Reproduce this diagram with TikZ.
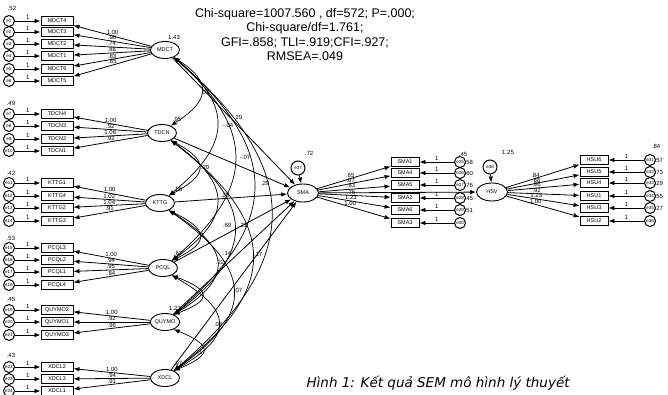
\documentclass[tikz,border=0pt]{standalone}
\usepackage{fontspec}
\setmainfont{Liberation Sans}
\newfontfamily\capfont{DejaVu Sans}
\usetikzlibrary{shapes.geometric,arrows.meta,calc}
\newcommand{\covarc}[4]{\draw[cov] (#1.-40) .. controls +(#3,#4) and +(#3,-#4) .. (#2.40);}
\begin{document}
\begin{tikzpicture}[x=1pt,y=-1pt,
 ind/.style={draw, line width=0.9pt, minimum width=32pt, minimum height=9.5pt, inner sep=0pt, font=\fontsize{5.5}{6}\selectfont},
 indr/.style={ind, minimum width=28pt},
 lat/.style={ellipse, draw, line width=0.9pt, minimum width=29pt, minimum height=17pt, inner sep=0pt, font=\fontsize{5.5}{6}\selectfont},
 err/.style={circle, draw, line width=1pt, minimum size=11pt, inner sep=0pt, font=\fontsize{4.5}{5}\selectfont},
 num/.style={font=\fontsize{6}{7}\selectfont, inner sep=0.5pt},
 arr/.style={-{Latex[length=6pt,width=4.5pt]}, line width=0.8pt},
 cov/.style={{Latex[length=6pt,width=4.5pt]}-{Latex[length=6pt,width=4.5pt]}, line width=0.7pt},
]
\useasboundingbox[fill=white] (0,0) rectangle (668,395);

% title
\node[font=\fontsize{12.5}{14.3}\selectfont, align=center] (title) at (305,34.5)
 {Chi-square=1007.560 , df=572; P=.000;\\Chi-square/df=1.761;\\GFI=.858; TLI=.919;CFI=.927;\\RMSEA=.049};

% latent variables
\node[lat] (M) at (165,50) {MDCT};
\node[lat] (T) at (162,133) {TDCN};
\node[lat] (K) at (160,203) {KTTG};
\node[lat] (P) at (163,268) {PCQL};
\node[lat] (Q) at (165,322) {QUYMO};
\node[lat] (X) at (165,378) {XDCL};
\node[lat, minimum width=31pt, minimum height=18pt] (S) at (303,193) {SMA};
\node[lat, minimum width=31pt, minimum height=18pt] (H) at (492,192) {HSV};

% latent variances
\node[num] (vM) at (174,37) {1.43};
\node[num] (vT) at (177,119) {.95};
\node[num] (vK) at (178,189) {.56};
\node[num] (vP) at (178,253) {.62};
\node[num] (vQ) at (175,308) {1.21};
\node[num] (vX) at (178,363) {.97};

% left indicators
\foreach \y/\t/\e/\l/\L in {21/MDCT4/1/1.00/M, 32/MDCT3/2/.96/M, 44/MDCT2/3/.74/M, 56/MDCT1/4/.88/M, 69/MDCT6/5/.83/M, 81/MDCT5/6/.85/M,
  114/TDCN4/7/1.00/T, 126/TDCN3/8/.92/T, 139/TDCN2/9/1.06/T, 151/TDCN1/10/.92/T,
  183/KTTG1/11/1.00/K, 196/KTTG4/12/1.02/K, 208/KTTG2/13/1.04/K, 221/KTTG3/14/.91/K,
  248/PCQL3/15/1.00/P, 260/PCQL2/16/.94/P, 272/PCQL1/17/.95/P, 285/PCQL4/18/.84/P,
  310/QUYMO2/19/1.00/Q, 322/QUYMO1/20/.92/Q, 335/QUYMO3/21/.96/Q,
  367/XDCL2/22/1.00/X, 379/XDCL3/23/.94/X, 391/XDCL1/24/.91/X}{
  \node[ind] (b\e) at (57,\y) {\t};
  \node[err] (e\e) at (9,\y) {e\e};
  \draw[arr] (e\e) -- (b\e) node[num, midway, above=0.5pt] {1};
  \draw[arr] (\L) -- (b\e) node[num, pos=0.5, above=0.3pt] {\l};
}
\node[num] (g1) at (12,8) {.52};
\node[num] (g2) at (11,103) {.49};
\node[num] (g3) at (11,173) {.42};
\node[num] (g4) at (11,238) {.53};
\node[num] (g5) at (11,299) {.45};
\node[num] (g6) at (11,355) {.43};

% SMA indicators
\foreach \y/\t/\e/\l/\v in {162/SMA1/25/.65/.58, 173/SMA4/26/.67/.60, 185/SMA5/27/.83/.76, 198/SMA2/28/.76/.45, 210/SMA6/29/1.23/.51, 223/SMA3/30/1.00/}{
  \node[indr] (b\e) at (405,\y) {\t};
  \node[err] (e\e) at (460,\y) {e\e};
  \draw[arr] (e\e) -- (b\e) node[num, midway, above=0.5pt] {1};
  \draw[arr] (S) -- (b\e) node[num, pos=0.45, above=0.3pt] {\l};
  \node[num, anchor=west] (v\e) at (464,\y) {\v};
}
\node[num] (gs) at (463,154) {.45};

% HSV indicators
\foreach \y/\t/\e/\l/\v in {160/HSU6/31/.84/.57, 172/HSU5/32/.88/.73, 183/HSU4/33/.96/.29, 196/HSU1/34/.92/.55, 208/HSU3/35/1.23/.27, 221/HSU2/36/1.00/}{
  \node[indr] (b\e) at (594,\y) {\t};
  \node[err] (e\e) at (650,\y) {e\e};
  \draw[arr] (e\e) -- (b\e) node[num, midway, above=0.5pt] {1};
  \draw[arr] (H) -- (b\e) node[num, pos=0.4, above=0.3pt] {\l};
  \node[num, anchor=west] (v\e) at (654,\y) {\v};
}
\node[num] (gh) at (656,146) {.84};

% disturbances
\node[err, minimum size=14pt] (z1) at (298,168) {e37};
\draw[arr] (z1) -- (S);
\node[num] (vz1) at (309,153) {.72};
\node[err, minimum size=14pt] (z2) at (490,167) {e38};
\draw[arr] (z2) -- (H);
\node[num] (vz2) at (508,152) {1.25};

% structural paths
\foreach \n in {M,T,K,P,Q,X}{\draw[arr] (\n) -- (S);}
\draw[arr] (S) -- (H);

% covariances
\covarc{M}{T}{39}{25}
\covarc{T}{K}{39}{21}
\covarc{K}{P}{39}{19}
\covarc{P}{Q}{39}{15}
\covarc{Q}{X}{39}{16}
\covarc{M}{K}{61}{50}
\covarc{T}{P}{61}{44}
\covarc{K}{Q}{61}{38}
\covarc{P}{X}{61}{35}
\covarc{M}{P}{83}{73}
\covarc{T}{Q}{83}{63}
\covarc{K}{X}{83}{58}
\covarc{M}{Q}{107}{92}
\covarc{T}{X}{107}{82}
\covarc{M}{X}{130}{111}

% path labels
\node[num] (c1) at (205,92) {.07};
\node[num] (c2) at (228,125) {-.04};
\node[num] (c3) at (238,117) {.29};
\node[num] (c4) at (245,157) {-.07};
\node[num] (c5) at (205,167) {.20};
\node[num] (c6) at (265,183) {.29};
\node[num] (c7) at (225,195) {.20};
\node[num] (c8) at (227,225) {.69};
\node[num] (c9) at (243,225) {.21};
\node[num] (c10) at (202,235) {.1};
\node[num] (c11) at (227,253) {.14};
\node[num] (c12) at (220,262) {.22};
\node[num] (c13) at (258,254) {.17};
\node[num] (c14) at (238,290) {.07};
\node[num] (c15) at (218,324) {.08};
\node[num] (c16) at (200,352) {.1};

% caption
\node[font=\capfont\fontsize{13.5}{16}\selectfont\itshape, anchor=base west] (cap) at (303,387) {Hình 1: Kết quả SEM mô hình lý thuyết};
\end{tikzpicture}
\end{document}
